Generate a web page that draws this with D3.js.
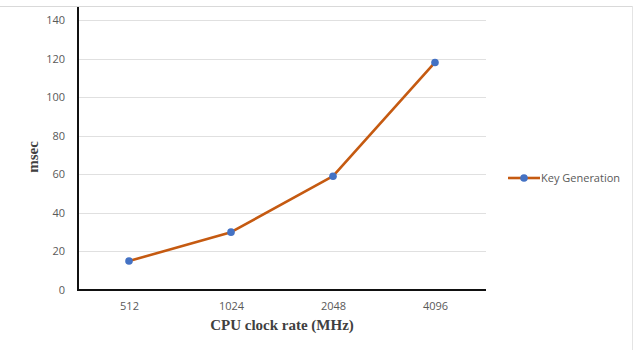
<!DOCTYPE html>
<html>
<head>
<meta charset="utf-8">
<script src="https://cdn.jsdelivr.net/npm/d3@7"></script>
<style>
  html, body { margin: 0; padding: 0; background: #fff; }
  svg { display: block; }
</style>
</head>
<body>
<svg id="chart" width="633" height="350"></svg>
<script>
// Key generation time per CPU clock rate
const categories = ["512", "1024", "2048", "4096"];
const keyGeneration = [15, 30, 59, 118];
const yTicks = [0, 20, 40, 60, 80, 100, 120, 140];
const seriesName = "Key Generation";

const W = 633, H = 350;
const plot = { left: 78, right: 486, top: 20, bottom: 290, frameTop: 7 };

const svg = d3.select("#chart");

// outer frame of the chart area
svg.append("line").attr("x1", 0).attr("x2", W).attr("y1", 6.5).attr("y2", 6.5)
  .attr("stroke", "#d9d9d9").attr("stroke-width", 1);
svg.append("line").attr("x1", 632.5).attr("x2", 632.5).attr("y1", 6).attr("y2", H)
  .attr("stroke", "#e4e4e4").attr("stroke-width", 1);

const x = d3.scalePoint().domain(categories)
  .range([plot.left, plot.right]).padding(0.5);
const y = d3.scaleLinear().domain([0, 140]).range([plot.bottom, plot.top]);

// horizontal gridlines
svg.append("g").selectAll("line").data(yTicks.filter(d => d > 0)).join("line")
  .attr("x1", plot.left).attr("x2", plot.right)
  .attr("y1", d => Math.round(y(d)) + 0.5).attr("y2", d => Math.round(y(d)) + 0.5)
  .attr("stroke", "#e0e0e0").attr("stroke-width", 1.2);

// y axis (its line runs up to the frame)
const yAxis = svg.append("g").attr("transform", `translate(${plot.left},0)`)
  .call(d3.axisLeft(y).tickValues(yTicks).tickSize(0).tickPadding(13));
yAxis.select(".domain").attr("d", `M0,${plot.frameTop}V${plot.bottom}`)
  .attr("stroke", "#111").attr("stroke-width", 2);
yAxis.selectAll("text").attr("font-family", "'Open Sans', sans-serif")
  .attr("font-size", 11).attr("fill", "#595959");

// x axis
const xAxis = svg.append("g").attr("transform", `translate(0,${plot.bottom})`)
  .call(d3.axisBottom(x).tickSize(0).tickPadding(12));
xAxis.select(".domain").attr("d", `M${plot.left - 1},0H${plot.right}`)
  .attr("stroke", "#111").attr("stroke-width", 2);
xAxis.selectAll("text").attr("font-family", "'Open Sans', sans-serif")
  .attr("font-size", 11).attr("fill", "#595959");

// axis titles
svg.append("text")
  .attr("transform", `translate(38,${(plot.top + plot.bottom) / 2 + 2}) rotate(-90)`)
  .attr("text-anchor", "middle")
  .attr("font-family", "'Liberation Serif', 'Times New Roman', serif")
  .attr("font-weight", "bold").attr("font-size", 15).attr("fill", "#404040")
  .text("msec");
svg.append("text")
  .attr("x", (plot.left + plot.right) / 2).attr("y", 330)
  .attr("text-anchor", "middle")
  .attr("font-family", "'Liberation Serif', 'Times New Roman', serif")
  .attr("font-weight", "bold").attr("font-size", 15).attr("fill", "#404040")
  .text("CPU clock rate (MHz)");

// series line and markers
const lineColor = "#c55a11", markerColor = "#4472c4";
const line = d3.line().x((d, i) => x(categories[i])).y(d => y(d));
svg.append("path").datum(keyGeneration)
  .attr("d", line).attr("fill", "none")
  .attr("stroke", lineColor).attr("stroke-width", 2.6).attr("stroke-linejoin", "round");
svg.append("g").selectAll("circle").data(keyGeneration).join("circle")
  .attr("cx", (d, i) => x(categories[i])).attr("cy", d => y(d))
  .attr("r", 3.8).attr("fill", markerColor);

// legend
const lg = svg.append("g").attr("transform", "translate(508,178)");
lg.append("line").attr("x1", 0).attr("x2", 32).attr("y1", 0).attr("y2", 0)
  .attr("stroke", lineColor).attr("stroke-width", 2.6);
lg.append("circle").attr("cx", 16).attr("cy", 0).attr("r", 3.8).attr("fill", markerColor);
lg.append("text").attr("x", 33).attr("y", 4)
  .attr("font-family", "'Open Sans', sans-serif").attr("font-size", 11).attr("fill", "#595959")
  .text(seriesName);
</script>
</body>
</html>
